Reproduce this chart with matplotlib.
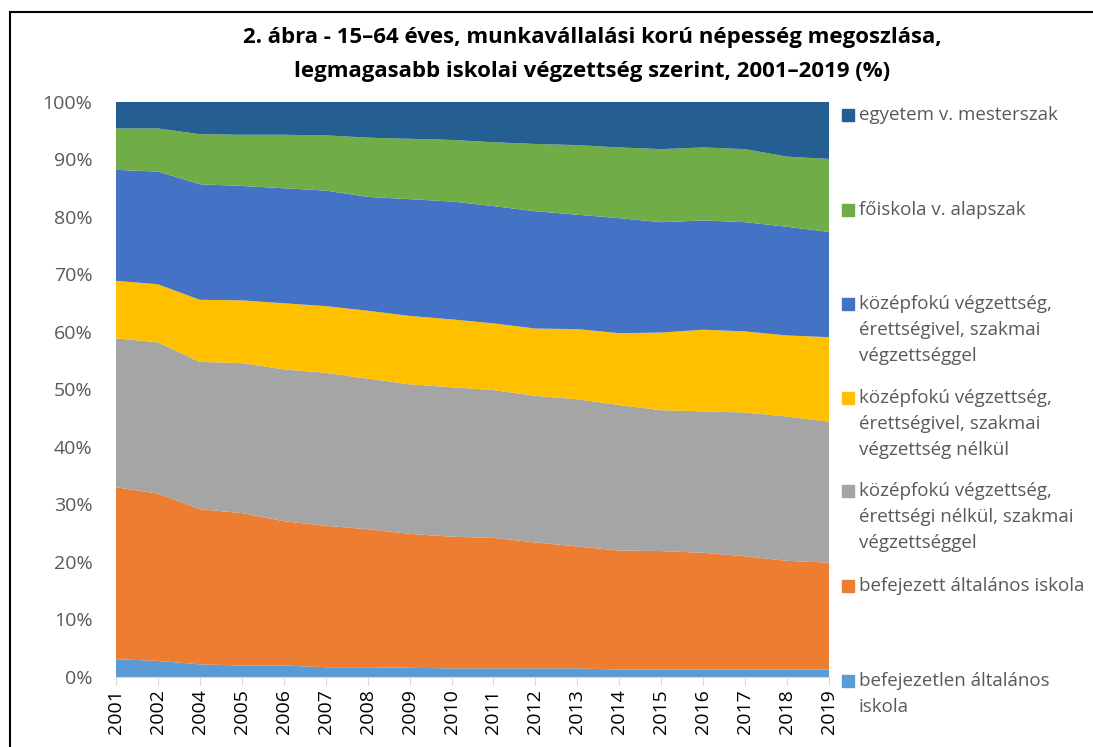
import matplotlib.pyplot as plt
from matplotlib.lines import Line2D
from matplotlib.patches import Rectangle

plt.rcParams['font.family'] = ['Open Sans', 'DejaVu Sans']

years = ["2001", "2002", "2004", "2005", "2006", "2007", "2008", "2009", "2010",
         "2011", "2012", "2013", "2014", "2015", "2016", "2017", "2018", "2019"]

# shares in %, bottom to top
befejezetlen = [3.1, 2.8, 2.2, 2.0, 2.0, 1.7, 1.7, 1.6, 1.5, 1.5, 1.5, 1.5, 1.3, 1.3, 1.3, 1.3, 1.3, 1.3]
befejezett = [29.9, 29.1, 27.0, 26.5, 25.1, 24.6, 24.0, 23.3, 22.9, 22.7, 21.9, 21.2, 20.7, 20.6, 20.3, 19.7, 18.9, 18.6]
szakmai_erettsegi_nelkul = [25.9, 26.3, 25.6, 26.1, 26.4, 26.6, 26.2, 26.0, 26.0, 25.7, 25.5, 25.6, 25.3, 24.5, 24.6, 25.0, 25.1, 24.5]
erettsegi_szakma_nelkul = [10.0, 10.1, 10.8, 10.9, 11.5, 11.6, 11.8, 11.9, 11.8, 11.6, 11.7, 12.2, 12.5, 13.5, 14.2, 14.1, 14.1, 14.7]
erettsegi_szakmaval = [19.3, 19.6, 20.1, 19.9, 20.0, 20.1, 19.8, 20.3, 20.5, 20.4, 20.4, 19.9, 20.0, 19.2, 19.0, 19.0, 18.9, 18.3]
foiskola = [7.2, 7.5, 8.7, 8.9, 9.3, 9.6, 10.3, 10.5, 10.7, 11.1, 11.7, 12.1, 12.3, 12.7, 12.7, 12.7, 12.2, 12.7]
egyetem = [4.6, 4.6, 5.6, 5.7, 5.7, 5.8, 6.2, 6.4, 6.6, 7.0, 7.3, 7.5, 7.9, 8.2, 7.9, 8.2, 9.5, 9.9]

series = [befejezetlen, befejezett, szakmai_erettsegi_nelkul, erettsegi_szakma_nelkul,
          erettsegi_szakmaval, foiskola, egyetem]
labels = ["befejezetlen általános\niskola",
          "befejezett általános iskola",
          "középfokú végzettség,\nérettségi nélkül, szakmai\nvégzettséggel",
          "középfokú végzettség,\nérettségivel, szakmai\nvégzettség nélkül",
          "középfokú végzettség,\nérettségivel, szakmai\nvégzettséggel",
          "főiskola v. alapszak",
          "egyetem v. mesterszak"]
colors = ["#5B9BD5", "#ED7D31", "#A5A5A5", "#FFC000", "#4472C4", "#70AD47", "#255E91"]

W, H = 1093, 747
fig = plt.figure(figsize=(W / 100, H / 100), dpi=100)
ax = fig.add_axes([116 / W, 1 - 677 / H, (829 - 116) / W, (677 - 102) / H])

x = list(range(len(years)))
ax.stackplot(x, *series, colors=colors, linewidth=0)

ax.set_xlim(0, len(years) - 1)
ax.set_ylim(0, 100)
ax.set_yticks(range(0, 101, 10))
ax.set_yticklabels([f"{v}%" for v in range(0, 101, 10)], fontsize=14, color="#595959")
ax.set_xticks(x)
ax.set_xticklabels(years, rotation=90, fontsize=14, color="black")
ax.tick_params(axis="y", length=0, pad=17)
ax.tick_params(axis="x", length=6, color="#D9D9D9", pad=3)
for s in ["top", "right", "left"]:
    ax.spines[s].set_visible(False)
ax.spines["bottom"].set_color("#D9D9D9")

fig.text(592 / W, 1 - 38 / H, "2. ábra - 15–64 éves, munkavállalási korú népesség megoszlása,",
         ha="center", va="center", fontsize=16, fontweight="bold")
fig.text(592 / W, 1 - 72 / H, "legmagasabb iskolai végzettség szerint, 2001–2019 (%)",
         ha="center", va="center", fontsize=16, fontweight="bold")

# legend placed like the Excel one (evenly spaced entries), bottom entry first
legend_y = [681, 586, 491, 398, 304, 210, 115]
for lab, col, yy in zip(labels, colors, legend_y):
    fig.patches.append(Rectangle((842 / W, 1 - (yy + 6) / H), 12 / W, 12 / H,
                                 transform=fig.transFigure, color=col))
    fig.text(859 / W, 1 - (yy - 9) / H, lab, ha="left", va="top", fontsize=13.5,
             color="#595959", linespacing=1.57)

# chart border
fig.lines.append(Line2D([10 / W, 10 / W], [0, 1 - 12 / H], transform=fig.transFigure,
                        color="black", linewidth=1.5))
fig.lines.append(Line2D([10 / W, 1], [1 - 12 / H, 1 - 12 / H], transform=fig.transFigure,
                        color="black", linewidth=1.5))

fig.savefig("out.png", dpi=100)
